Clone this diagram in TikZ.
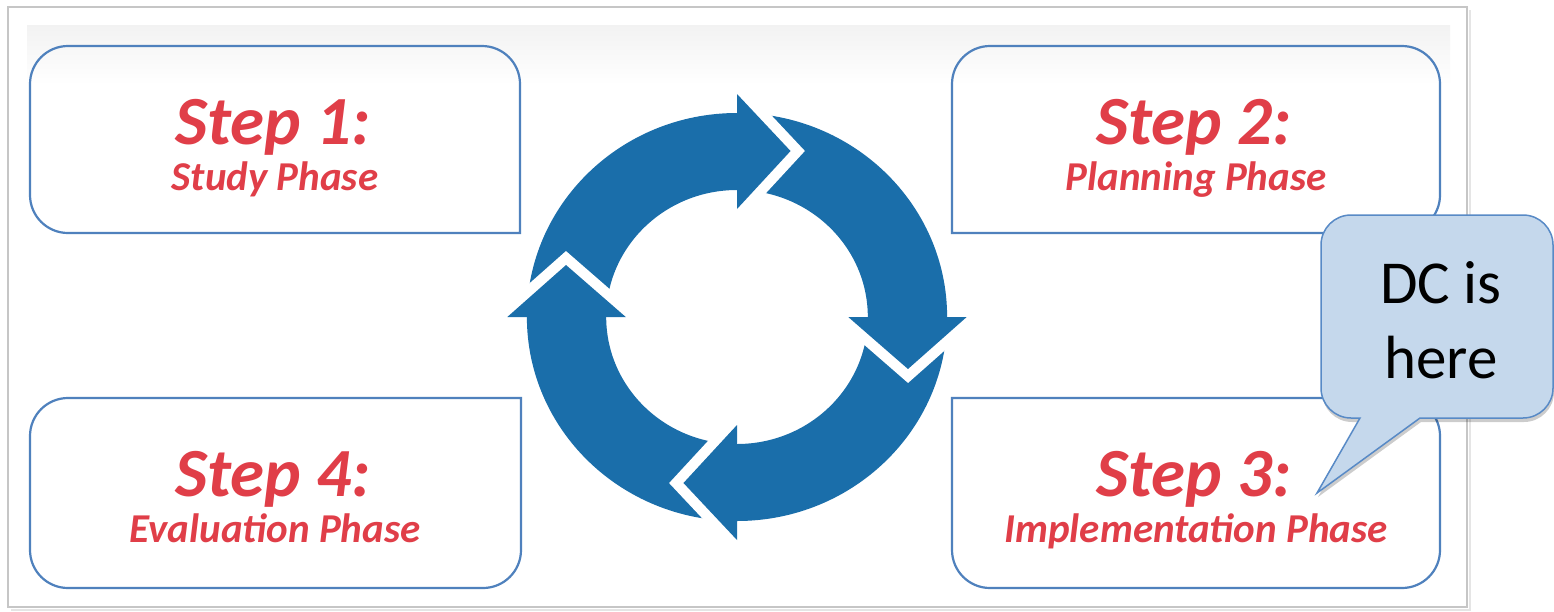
\documentclass[tikz,border=0pt]{standalone}
\usepackage{fontspec}
\setmainfont{Carlito}
\definecolor{ringblue}{RGB}{26,110,170}
\definecolor{boxblue}{RGB}{79,129,189}
\definecolor{stepred}{RGB}{224,62,72}
\definecolor{callfill}{RGB}{197,216,236}
\definecolor{callline}{RGB}{88,138,198}
\tikzset{
  stepline/.style={draw=boxblue, line width=2.2pt},
  titletext/.style={text=stepred, font=\fontsize{69}{72}\selectfont\bfseries\itshape, anchor=base, inner sep=0pt},
  subtext/.style={text=stepred, font=\fontsize{41}{45}\selectfont\bfseries\itshape, anchor=base, inner sep=0pt},
  calltext/.style={text=black, font=\fontsize{61}{70}\selectfont, anchor=base, inner sep=0pt},
  gapline/.style={white, line width=21pt, line join=miter},
}
\begin{document}
\begin{tikzpicture}[x=1pt,y=-1pt]
\useasboundingbox (0,0) rectangle (1554,611);
\fill[white] (0,0) rectangle (1554,611);
% frame with light shadow
\draw[gray!20, line width=2.5pt] (11,610) -- (1470,610) -- (1470,10);
\draw[gray!45, line width=1.2pt] (8,7) rectangle (1467,607);
% faint gradient band at the top
\shade[top color=gray!10, bottom color=white] (27,25) rectangle (1450,85);
% step boxes
\draw[stepline] (520,233) -- (68,233) arc[start angle=90,end angle=180,radius=38]
  -- (30,84) arc[start angle=180,end angle=270,radius=38]
  -- (482,46) arc[start angle=270,end angle=360,radius=38] -- cycle;
\draw[stepline] (952,233) -- (952,84) arc[start angle=180,end angle=270,radius=38]
  -- (1402,46) arc[start angle=270,end angle=360,radius=38]
  -- (1440,195) arc[start angle=0,end angle=90,radius=38] -- cycle;
\draw[stepline] (952,398) -- (1402,398) arc[start angle=270,end angle=360,radius=38]
  -- (1440,550) arc[start angle=0,end angle=90,radius=38]
  -- (990,588) arc[start angle=90,end angle=180,radius=38] -- cycle;
\draw[stepline] (521,398) -- (521,550) arc[start angle=0,end angle=90,radius=38]
  -- (68,588) arc[start angle=90,end angle=180,radius=38]
  -- (30,436) arc[start angle=180,end angle=270,radius=38] -- cycle;
% texts
\node[titletext] (t1) at (273,144) {Step 1:};
\node[subtext]   (p1) at (275,190) {Study Phase};
\node[titletext] (t2) at (1194,144) {Step 2:};
\node[subtext]   (p2) at (1196,190) {Planning Phase};
\node[titletext] (t3) at (1194,496) {Step 3:};
\node[subtext]   (p3) at (1196,542) {Implementation Phase};
\node[titletext] (t4) at (273,496) {Step 4:};
\node[subtext]   (p4) at (275,542) {Evaluation Phase};
% cycle of arrows
\begin{scope}[shift={(737,317)}, yscale=-1, xscale=1.03]
  \fill[ringblue, even odd rule] (0,0) circle[radius=204] (0,0) circle[radius=127];
  \foreach \B in {90,0,-90,-180} {
    \draw[gapline] (\B:223) -- (\B-17.39:173.95) -- (\B:108);
    \fill[ringblue] (\B:223) -- (\B-17.39:173.95) -- (\B:108) -- cycle;
  }
\end{scope}
% callout
\fill[black, opacity=0.2, shift={(1,4)}] (1351,215) -- (1523,215) arc[start angle=270,end angle=360,radius=30]
  -- (1553,388) arc[start angle=0,end angle=90,radius=30]
  -- (1420,418) -- (1317,493) -- (1360,418)
  -- (1351,418) arc[start angle=90,end angle=180,radius=30]
  -- (1321,245) arc[start angle=180,end angle=270,radius=30] -- cycle;
\draw[callline, fill=callfill, line width=1.5pt] (1351,215) -- (1523,215) arc[start angle=270,end angle=360,radius=30]
  -- (1553,388) arc[start angle=0,end angle=90,radius=30]
  -- (1420,418) -- (1317,493) -- (1360,418)
  -- (1351,418) arc[start angle=90,end angle=180,radius=30]
  -- (1321,245) arc[start angle=180,end angle=270,radius=30] -- cycle;
\node[calltext] (dc1) at (1441,303) {DC is};
\node[calltext] (dc2) at (1441,378) {here};
\end{tikzpicture}
\end{document}
